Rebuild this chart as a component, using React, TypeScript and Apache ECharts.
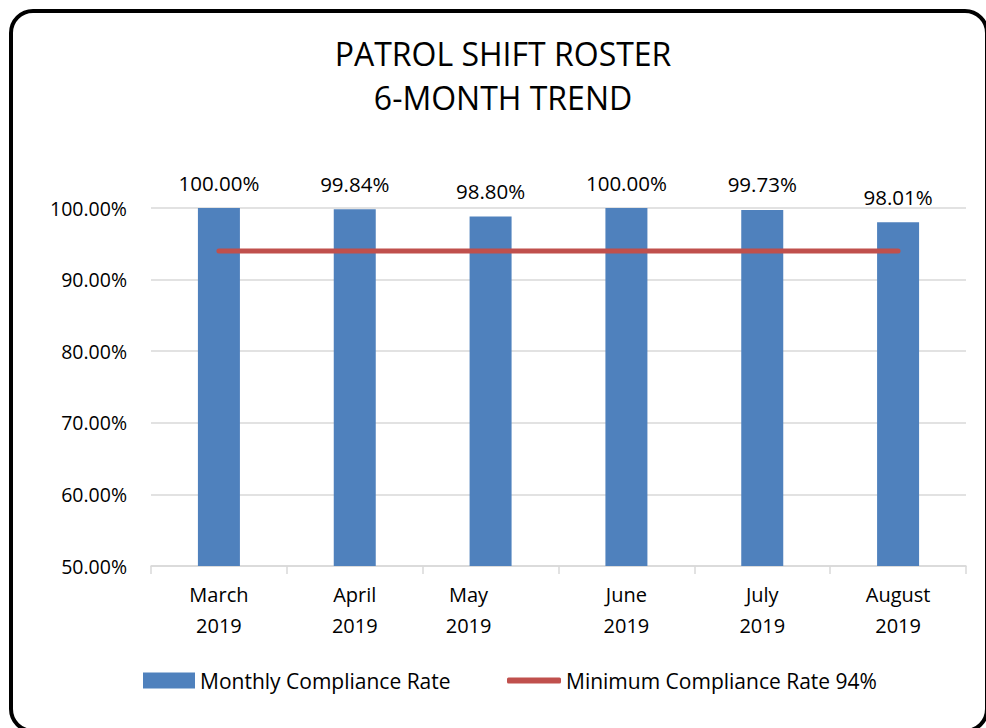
import React, { useEffect, useRef } from "react";
import * as echarts from "echarts";

const categories = ["March\n2019", "April\n2019", "May\n2019", "June\n2019", "July\n2019", "August\n2019"];
const complianceRates = [100.0, 99.84, 98.8, 100.0, 99.73, 98.01];
const minimumRate = [94, 94, 94, 94, 94, 94];
const titleLines = ["PATROL SHIFT ROSTER", "6-MONTH TREND"];
const seriesNames = ["Monthly Compliance Rate", "Minimum Compliance Rate 94%"];

const FONT = "'Open Sans', 'Noto Sans', sans-serif";

export default function App() {
  const ref = useRef<HTMLDivElement>(null);
  useEffect(() => {
    if (!ref.current) return;
    const chart = echarts.init(ref.current, null, { renderer: "svg" });
    chart.setOption({
      animation: false,
      backgroundColor: "#ffffff",
      title: {
        text: titleLines.join("\n"),
        left: 498,
        top: 26,
        textAlign: "center",
        textStyle: { fontFamily: FONT, fontWeight: "normal", fontSize: 32, lineHeight: 44, color: "#000" },
      },
      graphic: [
        {
          type: "rect",
          shape: { x: 11, y: 11, width: 976, height: 720, r: 22 },
          style: { fill: "none", stroke: "#000", lineWidth: 4 },
          silent: true,
        },
      ],
      legend: [
        {
          left: 138,
          top: 665,
          itemWidth: 52,
          itemHeight: 16,
          textStyle: { fontFamily: FONT, fontSize: 21, color: "#000" },
          data: [{ name: seriesNames[0], icon: "rect" }],
        },
        {
          left: 502,
          top: 665,
          itemWidth: 54,
          itemHeight: 6,
          textStyle: { fontFamily: FONT, fontSize: 21, color: "#000" },
          data: [{ name: seriesNames[1], icon: "roundRect" }],
        },
      ],
      grid: { left: 151, right: 20, top: 208, bottom: 162, containLabel: false },
      xAxis: {
        type: "category",
        data: categories.map((c, i) =>
          i === 2 ? { value: c, textStyle: { padding: [0, 44, 0, 0] } } : c
        ),
        axisLine: { lineStyle: { color: "#d9d9d9", width: 1.5 } },
        axisTick: { show: true, length: 8, lineStyle: { color: "#d9d9d9", width: 1.5 } },
        axisLabel: { fontFamily: FONT, fontSize: 20, lineHeight: 31, color: "#000", margin: 13, interval: 0 },
      },
      yAxis: {
        type: "value",
        min: 50,
        max: 100,
        interval: 10,
        axisLine: { show: false },
        axisTick: { show: false },
        splitLine: { lineStyle: { color: "#d9d9d9", width: 1.5 } },
        axisLabel: {
          fontFamily: FONT,
          fontSize: 19.5,
          color: "#000",
          margin: 24,
          formatter: (v: number) => v.toFixed(2) + "%",
        },
      },
      series: [
        {
          name: seriesNames[0],
          type: "bar",
          data: complianceRates,
          barWidth: 42,
          itemStyle: { color: "#4F81BD" },
          label: {
            show: true,
            position: "top",
            distance: 15,
            fontFamily: FONT,
            fontSize: 20.5,
            color: "#000",
            formatter: (p: any) => p.value.toFixed(2) + "%",
          },
        },
        {
          name: seriesNames[1],
          type: "line",
          data: minimumRate,
          symbol: "none",
          showSymbol: false,
          lineStyle: { color: "#C0504D", width: 5, cap: "round" },
          itemStyle: { color: "#C0504D" },
        },
      ],
    });
    return () => chart.dispose();
  }, []);
  return (
    <div
      ref={ref}
      style={{ position: "fixed", left: 0, top: 0, width: 986, height: 728, background: "#fff" }}
    />
  );
}
